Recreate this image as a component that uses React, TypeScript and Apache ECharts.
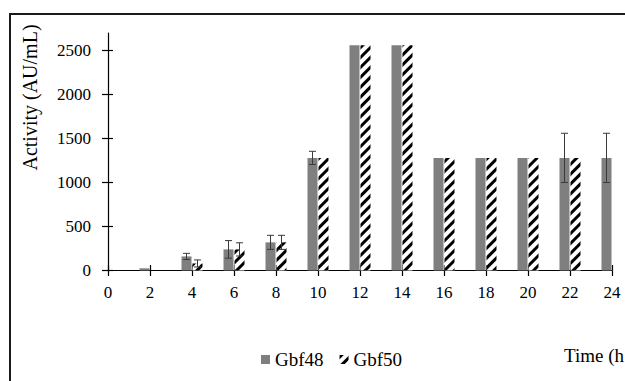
import React, { useEffect, useRef } from "react";
import * as echarts from "echarts";

const times = [2, 4, 6, 8, 10, 12, 14, 16, 18, 20, 22, 24];
const gbf48 = [25, 160, 240, 320, 1280, 2560, 2560, 1280, 1280, 1280, 1280, 1280];
const gbf48Err = [0, 35, 100, 80, 75, 0, 0, 0, 0, 0, 280, 280];
const gbf50 = [0, 80, 240, 320, 1280, 2560, 2560, 1280, 1280, 1280, 1280, null];
const gbf50Err = [0, 40, 75, 80, 0, 0, 0, 0, 0, 0, 0, 0];
const yTicks = [0, 500, 1000, 1500, 2000, 2500];

const FONT = "Liberation Serif";

export default function App() {
  const ref = useRef<HTMLDivElement>(null);
  useEffect(() => {
    if (!ref.current) return;
    const chart = echarts.init(ref.current, undefined, { renderer: "svg" });
    const errData = (vals: (number | null)[], errs: number[], off: number) =>
      times
        .map((t, i) => (errs[i] > 0 && vals[i] != null ? [t, (vals[i] as number) - errs[i], (vals[i] as number) + errs[i], off] : null))
        .filter((d) => d !== null);
    const renderErr = (params: any, api: any) => {
      const x = api.value(0);
      const top = api.coord([x, api.value(2)]);
      const bot = api.coord([x, api.value(1)]);
      const cx = top[0] + api.value(3);
      const st = { stroke: "#3a3a3a", lineWidth: 1 };
      return {
        type: "group",
        children: [
          { type: "line", shape: { x1: cx, y1: top[1], x2: cx, y2: bot[1] }, style: st },
          { type: "line", shape: { x1: cx - 3.5, y1: top[1], x2: cx + 3.5, y2: top[1] }, style: st },
          { type: "line", shape: { x1: cx - 3.5, y1: bot[1], x2: cx + 3.5, y2: bot[1] }, style: st },
        ],
      };
    };
    const hatch = {
      symbol: "rect",
      symbolSize: 1,
      dashArrayX: [1, 0],
      dashArrayY: [3, 3.5],
      rotation: -Math.PI / 4,
      color: "#000",
      backgroundColor: "#fff",
    };
    chart.setOption({
      animation: false,
      grid: { left: 108, right: 13, top: 33, bottom: 110.5, containLabel: false },
      graphic: [
        {
          type: "rect",
          shape: { x: 10, y: 14, width: 800, height: 600 },
          style: { fill: "none", stroke: "#1a1a1a", lineWidth: 2 },
          silent: true,
        },
        {
          type: "text",
          x: 30,
          y: 97.5,
          rotation: Math.PI / 2,
          style: {
            text: "Activity (AU/mL)",
            fontFamily: FONT,
            fontSize: 20,
            fill: "#000",
            align: "center",
            verticalAlign: "middle",
          },
        },
        {
          type: "text",
          x: 564,
          y: 355,
          style: {
            text: "Time (h",
            fontFamily: FONT,
            fontSize: 19,
            fill: "#000",
            align: "left",
            verticalAlign: "middle",
          },
        },
      ],
      legend: {
        data: ["Gbf48", "Gbf50"],
        left: 256,
        top: 345,
        icon: "rect",
        itemWidth: 9,
        itemHeight: 9,
        itemGap: 16,
        textStyle: { fontFamily: FONT, fontSize: 19, color: "#000" },
      },
      xAxis: [
        {
          type: "value",
          min: 0,
          max: 24,
          interval: 2,
          position: "bottom",
          axisLine: { lineStyle: { color: "#000", width: 1.2 } },
          axisTick: { show: true, length: 5.5, lineStyle: { color: "#000", width: 1.2 } },
          axisLabel: { fontFamily: FONT, fontSize: 17, color: "#000", margin: 13 },
          splitLine: { show: false },
        },
        {
          type: "value",
          min: 0,
          max: 24,
          interval: 2,
          position: "bottom",
          axisLine: { show: false },
          axisTick: { show: true, inside: true, length: 5.5, lineStyle: { color: "#000", width: 1.2 } },
          axisLabel: { show: false },
          splitLine: { show: false },
        },
      ],
      yAxis: [
        {
          type: "value",
          min: 0,
          max: 2700,
          position: "left",
          axisLine: { show: true, lineStyle: { color: "#000", width: 1.2 } },
          axisTick: { show: true, length: 6, customValues: yTicks, lineStyle: { color: "#000", width: 1.2 } },
          axisLabel: {
            fontFamily: FONT,
            fontSize: 17,
            color: "#000",
            margin: 17,
            customValues: yTicks,
            formatter: (v: number) => String(v),
          },
          splitLine: { show: false },
        },
        {
          type: "value",
          min: 0,
          max: 2700,
          position: "left",
          axisLine: { show: false },
          axisTick: { show: true, inside: true, length: 5, customValues: yTicks, lineStyle: { color: "#000", width: 1.2 } },
          axisLabel: { show: false, customValues: yTicks },
          splitLine: { show: false },
        },
      ],
      series: [
        {
          name: "Gbf48",
          type: "bar",
          barWidth: 10,
          barGap: "10%",
          data: times.map((t, i) => [t, gbf48[i]]),
          itemStyle: { color: "#7f7f7f" },
        },
        {
          name: "Gbf50",
          type: "bar",
          barWidth: 10,
          barGap: "10%",
          data: times.map((t, i) => [t, gbf50[i]]),
          itemStyle: { color: "#fff", decal: hatch },
        },
        {
          type: "custom",
          renderItem: renderErr,
          data: errData(gbf48, gbf48Err, -5.5),
          z: 10,
        },
        {
          type: "custom",
          renderItem: renderErr,
          data: errData(gbf50, gbf50Err, 5.5),
          z: 10,
        },
      ],
    });
    return () => chart.dispose();
  }, []);
  return (
    <div
      ref={ref}
      style={{ position: "fixed", left: 0, top: 0, width: 625, height: 381, background: "#fff" }}
    />
  );
}
